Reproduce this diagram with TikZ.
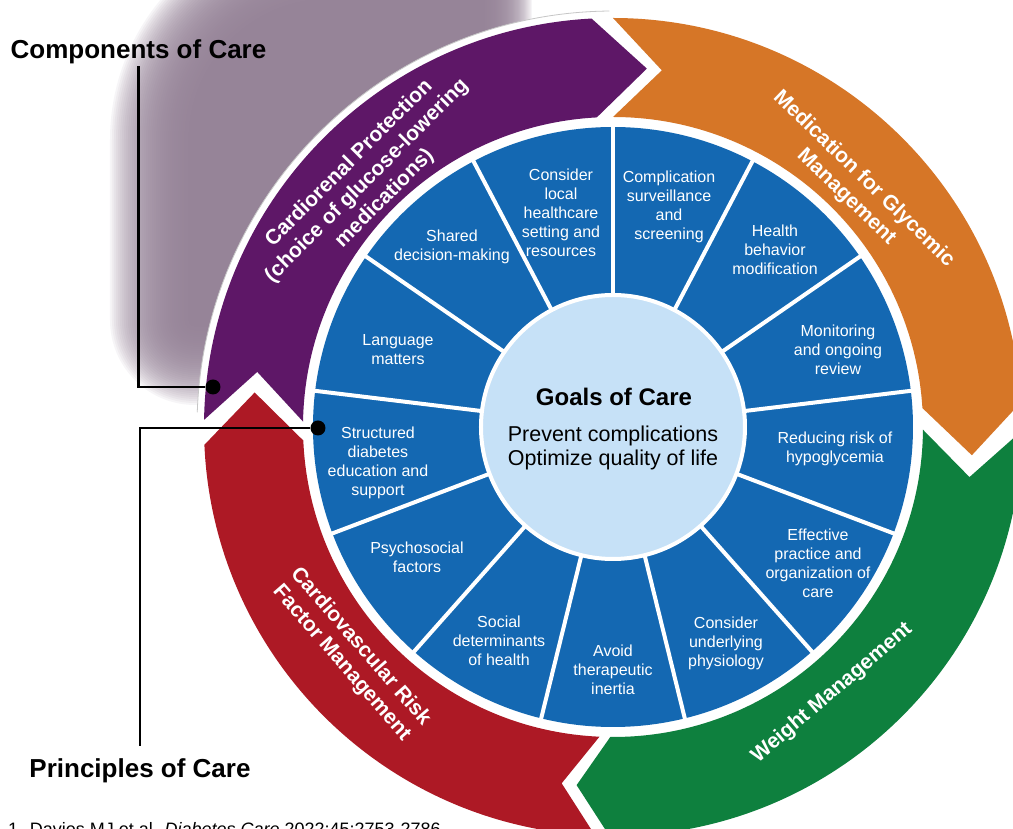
\documentclass[tikz,border=0pt]{standalone}
\usepackage{fontspec}
\setmainfont{Liberation Sans}
\usetikzlibrary{calc}

\definecolor{segblue}{RGB}{20,104,178}
\definecolor{goalblue}{RGB}{198,225,247}
\definecolor{ringpurple}{RGB}{94,23,103}
\definecolor{ringorange}{RGB}{214,118,39}
\definecolor{ringgreen}{RGB}{14,128,62}
\definecolor{ringred}{RGB}{173,25,37}
\definecolor{shadowgray}{RGB}{146,127,148}

\newcommand{\segfont}{\fontsize{16}{19}\selectfont}
\newcommand{\ringfont}{\bfseries\fontsize{21}{25}\selectfont}
\newcommand{\headfont}{\bfseries\fontsize{26}{31}\selectfont}
\newcommand{\goalhead}{\bfseries\fontsize{24}{29}\selectfont}
\newcommand{\goalfont}{\fontsize{21.5}{24.7}\selectfont}
\newcommand{\citefont}{\fontsize{18}{22}\selectfont}

\newcommand{\ringarrow}[5]{%
  \fill[#1] (#2:409) arc[start angle=#2, end angle=#3, radius=409]
    -- ({#3-#5}:360) -- (#3:310)
    arc[start angle=#3, end angle=#2, radius=310]
    -- ({#2-#4}:360) -- cycle;}

\begin{document}
\begin{tikzpicture}[x=1pt, y=1pt,
    seglabel/.style={align=center, text=white, font=\segfont, inner sep=1pt},
    ringlabel/.style={align=center, text=white, font=\ringfont, inner sep=1pt},
    heading/.style={font=\headfont, inner sep=2pt},
    leaderdot/.style={circle, fill=black, inner sep=0pt, minimum size=15pt},
    leader/.style={line width=2.5pt},
    divider/.style={white, line width=4pt},
    shadowlayer/.style={fill=shadowgray, opacity=0.08}
]
\useasboundingbox (-613,-402) rectangle (400,427);
\clip (-613,-402) rectangle (400,427);

\foreach \o in {-40,-38,...,40}
  \fill[shadowlayer] ({-105+0.6*\o},{467+\o}) -- (-283,{467+\o})
    arc[start angle=90, end angle=180, radius={180+\o}] -- ({-463-\o},107)
    arc[start angle=180, end angle=270, radius={45+\o}] -- ({-105+0.6*\o},{62-\o}) -- cycle;

\fill[white] (0,0) circle (416);
\draw[gray!45, line width=0.8pt] (90.5:416) arc[start angle=90.5, end angle=178, radius=416];

\ringarrow{ringpurple}{179}{93}{7.8}{8.4}
\ringarrow{ringorange}{90}{3.5}{7.8}{8}
\ringarrow{ringgreen}{-0.5}{-90.5}{7.5}{5.3}
\ringarrow{ringred}{-92.5}{-177.5}{5.7}{8}

\fill[segblue] (0,0) circle (300);
\foreach \k in {0,...,12}
  \draw[divider] ({90+27.6923*\k}:128) -- ({90+27.6923*\k}:302);
\node[circle, fill=goalblue, draw=white, line width=4pt, minimum size=264pt, inner sep=0pt] (goals) at (0,0) {};
\node[font=\goalhead] (goaltitle) at (1,30) {Goals of Care};
\node[align=center, font=\goalfont] (goaltext) at (0,-21) {Prevent complications\\Optimize quality of life};

\node[seglabel] (local) at (-52,214) {Consider\\local\\healthcare\\setting and\\resources};
\node[seglabel] (surveil) at (56,220) {Complication\\surveillance\\and\\screening};
\node[seglabel] (behavior) at (162,177) {Health\\behavior\\modification};
\node[seglabel] (monitor) at (225,77) {Monitoring\\and ongoing\\review};
\node[seglabel] (hypo) at (222,-22) {Reducing risk of\\hypoglycemia};
\node[seglabel] (practice) at (205,-136) {Effective\\practice and\\organization of\\care};
\node[seglabel] (physio) at (113,-216) {Consider\\underlying\\physiology};
\node[seglabel] (inertia) at (0,-243) {Avoid\\therapeutic\\inertia};
\node[seglabel] (social) at (-114,-214) {Social\\determinants\\of health};
\node[seglabel] (psycho) at (-196,-130) {Psychosocial\\factors};
\node[seglabel] (dsmes) at (-235,-36) {Structured\\diabetes\\education and\\support};
\node[seglabel] (language) at (-215,77) {Language\\matters};
\node[seglabel] (shared) at (-161,180) {Shared\\decision-making};

\node[ringlabel, rotate=45] (cardiorenal) at (-246,246) {Cardiorenal Protection\\(choice of glucose-lowering\\medications)};
\node[ringlabel, rotate=-44] (glycemic) at (242,239) {Medication for Glycemic\\Management};
\node[ringlabel, rotate=40.5] (weight) at (219,-266) {Weight Management};
\node[ringlabel, rotate=-49] (cvrisk) at (-262,-228) {Cardiovascular Risk\\Factor Management};

\node[heading] (comp) at (-474.5,375) {Components of Care};
\node[leaderdot] (compdot) at (-400,40) {};
\draw[leader] (comp.south) |- (compdot);

\node[heading] (princ) at (-473,-344) {Principles of Care};
\node[leaderdot] (princdot) at (-295,-1) {};
\draw[leader, shorten >=11pt] (princdot) -| (princ.north);

\node[anchor=north west, inner sep=0pt, font=\citefont] (cite) at (-605,-395) {1. Davies MJ et al. \textit{Diabetes Care} 2022;45:2753-2786};
\end{tikzpicture}
\end{document}
